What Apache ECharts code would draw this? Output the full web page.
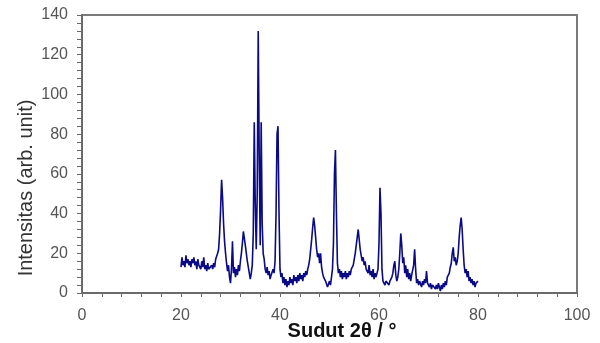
<!DOCTYPE html>
<html>
<head>
<meta charset="utf-8">
<script src="https://cdn.jsdelivr.net/npm/echarts@6/dist/echarts.min.js"></script>
<style>html,body{margin:0;padding:0;background:#fff;}#c{width:600px;height:343px;}</style>
</head>
<body>
<div id="c"></div>
<script>
// XRD scan: 2θ from scanStart in steps of scanStep (one row = one degree)
const scanStart = 20.0;
const scanStep = 0.2;
const intensity = [
  13,18,14,16,13,  // 20
  19,15,17,14,16,  // 21
  13,17,15,18,14,  // 22
  16,12,17,14,15,  // 23
  12,16,13,18,12,  // 24
  14,11,15,12,13,  // 25
  11,14,12,15,13,  // 26
  17,16,20,22,30,  // 27
  42,57,48,35,26,  // 28
  20,15,11,14,8,   // 29
  5,12,26,10,13,   // 30
  8,12,9,14,11,    // 31
  16,20,25,31,32,  // 32
  24,20,16,13,10,  // 33
  7,10,14,30,86,   // 34
  45,22,50,132,70, // 35
  24,86,35,20,17,  // 36
  12,10,13,9,11,   // 37
  7,9,8,12,10,     // 38
  16,40,80,84,40,  // 39
  12,8,10,5,8,     // 40
  4,7,3,6,4,       // 41
  8,5,7,4,9,       // 42
  6,8,5,9,6,       // 43
  10,7,9,6,10,     // 44
  8,11,9,12,14,    // 45
  17,22,27,33,38,  // 46
  34,28,22,18,20,  // 47
  15,20,13,10,8,   // 48
  9,6,7,3,2,       // 49
  6,4,8,12,25,     // 50
  60,72,40,15,10,  // 51
  12,8,11,7,10,    // 52
  8,11,7,10,8,     // 53
  11,9,12,11,14,   // 54
  17,20,24,28,32,  // 55
  27,22,19,16,18,  // 56
  14,16,12,13,10,  // 57
  14,9,11,8,12,    // 58
  7,10,8,9,12,     // 59
  25,53,40,12,6,   // 60
  7,4,6,5,7,       // 61
  4,6,5,8,10,      // 62
  14,16,9,6,8,     // 63
  12,20,30,24,15,  // 64
  18,10,14,8,12,   // 65
  7,10,6,9,8,      // 66
  14,22,12,5,7,    // 67
  4,6,5,3,6,       // 68
  4,7,5,11,5,      // 69
  6,3,5,2,4,       // 70
  3,5,2,4,2,       // 71
  5,3,1,4,2,       // 72
  5,3,6,4,8,       // 73
  7,10,13,15,20,   // 74
  23,16,18,14,16,  // 75
  20,28,34,38,32,  // 76
  22,14,10,12,8,   // 77
  11,6,8,5,7,      // 78
  4,6,3,5,4,       // 79
  6                // 80
];
const xTicks = [0, 20, 40, 60, 80, 100];
const yTicks = [0, 20, 40, 60, 80, 100, 120, 140];
const xTitle = 'Sudut 2θ / °';
const yTitle = 'Intensitas (arb. unit)';

const seriesData = intensity.map((v, i) => [+(scanStart + i * scanStep).toFixed(1), v]);

const chart = echarts.init(document.getElementById('c'), null, {renderer: 'canvas'});
const axisCol = '#7a7a7a';
const labelStyle = {color: '#555', fontSize: 16, fontFamily: 'Liberation Sans, Arial, sans-serif'};
chart.setOption({
  animation: false,
  grid: {left: 82, right: 23, top: 15, bottom: 50, show: true, borderColor: axisCol, borderWidth: 2, backgroundColor: 'transparent'},
  xAxis: {
    type: 'value', min: xTicks[0], max: xTicks[xTicks.length - 1], interval: 20,
    axisLine: {show: true, onZero: false, lineStyle: {color: '#6a6a6a', width: 2}},
    axisTick: {show: true, inside: false, length: 4, lineStyle: {color: '#6a6a6a'}},
    minorTick: {show: true, splitNumber: 5, length: 4, lineStyle: {color: '#6a6a6a'}},
    splitLine: {show: false},
    axisLabel: Object.assign({margin: 15}, labelStyle)
  },
  yAxis: {
    type: 'value', min: yTicks[0], max: yTicks[yTicks.length - 1], interval: 20,
    axisLine: {show: true, lineStyle: {color: '#6a6a6a', width: 2}},
    axisTick: {show: true, inside: false, length: 5, lineStyle: {color: '#6a6a6a'}},
    minorTick: {show: true, splitNumber: 5, length: 5, lineStyle: {color: '#6a6a6a'}},
    splitLine: {show: false},
    axisLabel: Object.assign({margin: 14}, labelStyle)
  },
  graphic: [
    {type: 'text', x: 342, y: 331, style: {text: xTitle, fill: '#111', font: 'bold 20px "Liberation Sans", Arial, sans-serif', align: 'center', verticalAlign: 'middle'}},
    {type: 'text', x: 26, y: 188, rotation: Math.PI / 2, style: {text: yTitle, fill: '#333', font: '20px "Liberation Sans", Arial, sans-serif', align: 'center', verticalAlign: 'middle'}}
  ],
  series: [{
    type: 'line', data: seriesData, showSymbol: false, symbol: 'none',
    lineStyle: {color: '#0a0a86', width: 1.6}, z: 3
  }]
});
</script>
</body>
</html>
